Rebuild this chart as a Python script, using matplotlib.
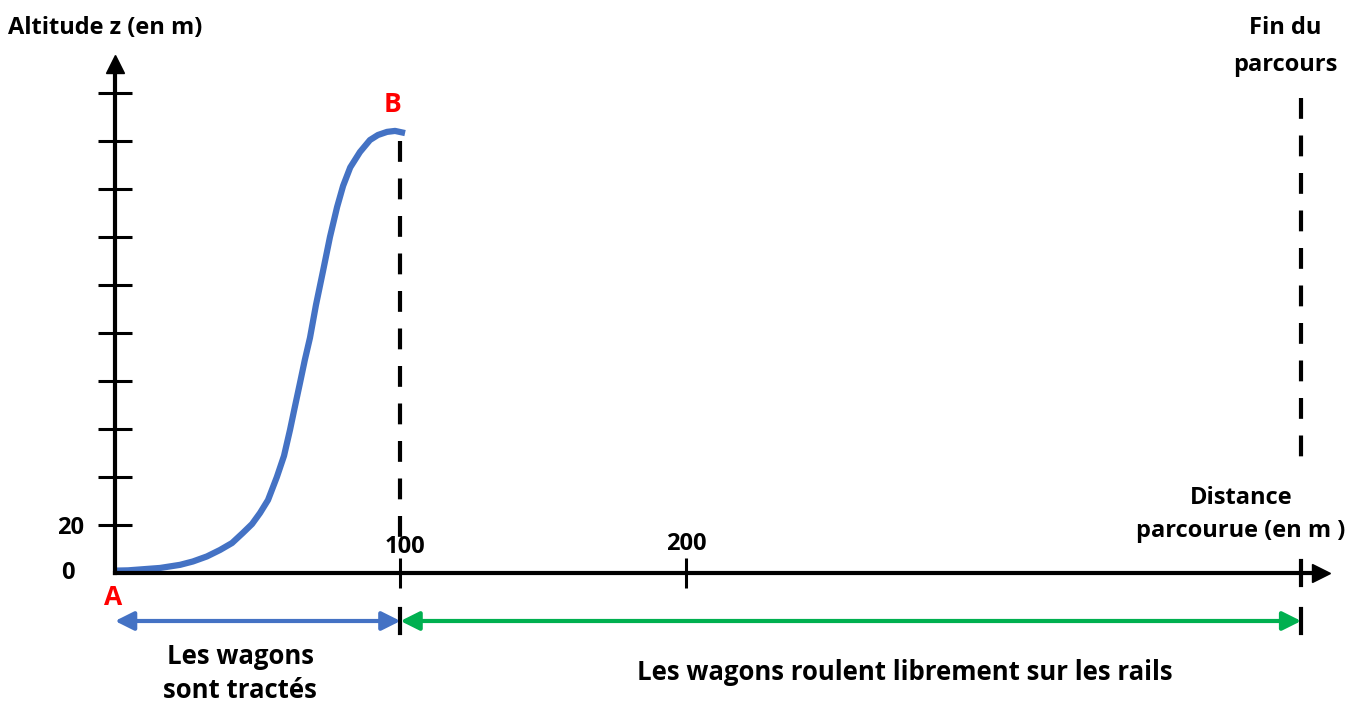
import matplotlib.pyplot as plt

plt.rcParams['font.family'] = ['Open Sans', 'DejaVu Sans']
plt.rcParams['font.weight'] = 'bold'

# profil de la montee A -> B (distance en m, altitude en m)
dist = [0.7, 4.6, 15.8, 22.8, 27.3, 32.2, 36.8, 41.0, 44.8, 48.0, 50.8, 53.6, 56.7, 59.2,
        61.3, 63.0, 64.8, 66.5, 68.3, 70.4, 72.9, 75.3, 77.8, 79.9, 82.4, 85.8, 89.3,
        92.1, 95.3, 98.1, 101.6]
alt = [1.0, 1.1, 2.1, 3.4, 4.8, 6.9, 9.6, 12.5, 16.7, 20.4, 25, 30.4, 40, 48.8,
       59.6, 69.2, 79.2, 88.8, 98, 111.7, 126, 140, 152.5, 161.3, 169, 175.4, 180.4,
       182.5, 183.8, 184.2, 183.3]

yticks = [20, 40, 60, 80, 100, 120, 140, 160, 180, 200]
ytick_labels = ['20', '', '', '', '', '', '', '', '', '']
xticks = [100, 200]
x_fin = 415.5
y_fleche = -20

fig = plt.figure(figsize=(13.6, 7.03), dpi=100)
ax = fig.add_axes([0, 0, 1, 1])
ax.set_xlim(-40.28, 436.1)
ax.set_ylim(-54.17, 238.75)

for s in ['top', 'right']:
    ax.spines[s].set_visible(False)
ax.spines['left'].set_position(('data', 0))
ax.spines['bottom'].set_position(('data', 0))
ax.spines['left'].set_bounds(0, 210)
ax.spines['bottom'].set_bounds(0, 420)
ax.spines['left'].set_linewidth(3)
ax.spines['bottom'].set_linewidth(3)
ax.plot(0, 212, marker='^', color='black', ms=13, clip_on=False)
ax.plot(422.5, 0, marker='>', color='black', ms=13, clip_on=False)

ax.set_yticks(yticks)
ax.set_yticklabels(ytick_labels)
ax.set_xticks(xticks)
ax.set_xticklabels([])
ax.tick_params(axis='y', direction='inout', length=25, width=2.2, labelsize=17, pad=10)
ax.tick_params(axis='x', direction='inout', length=22, width=2.2)

# courbe
ax.plot(dist, alt, color='#4472C4', lw=4.5, solid_capstyle='butt', solid_joinstyle='round')

# lignes pointillees
ax.plot([100, 100], [180, 14], color='black', lw=3, dashes=(5, 4))
ax.plot([x_fin, x_fin], [198, 42], color='black', lw=3, dashes=(5, 4))
ax.plot([x_fin, x_fin], [-5, 5], color='black', lw=3)
ax.plot([100, 100], [-15, -25], color='black', lw=3)
ax.plot([x_fin, x_fin], [-15, -25], color='black', lw=3)

# fleches
ax.annotate('', xy=(0, y_fleche), xytext=(100, y_fleche),
            arrowprops=dict(arrowstyle='<|-|>', color='#4472C4', lw=3, mutation_scale=28, shrinkA=0, shrinkB=0))
ax.annotate('', xy=(100, y_fleche), xytext=(x_fin, y_fleche),
            arrowprops=dict(arrowstyle='<|-|>', color='#00B050', lw=3, mutation_scale=28, shrinkA=0, shrinkB=0))

fs = 17
fb = 18.5
ax.text(-37.5, 227, 'Altitude z (en m)', fontsize=fs, ha='left', va='center')
ax.text(410, 219.2, 'Fin du\nparcours', fontsize=fs, ha='center', va='center', linespacing=1.72)
ax.text(394.4, 24.4, 'Distance\nparcourue (en m )', fontsize=fs, ha='center', va='center', linespacing=1.48)
ax.text(43.8, -41.9, 'Les wagons\nsont tractés', fontsize=fb, ha='center', va='center', linespacing=1.36)
ax.text(276.7, -41.5, 'Les wagons roulent librement sur les rails', fontsize=fb, ha='center', va='center')
ax.text(101.6, 11, '100', fontsize=fs, ha='center', va='center')
ax.text(200, 12.2, '200', fontsize=fs, ha='center', va='center')
ax.text(-16.5, 0, '0', fontsize=fs, ha='center', va='center')
ax.text(-0.7, -10.4, 'A', fontsize=19, ha='center', va='center', color='#FF0000')
ax.text(97.3, 195, 'B', fontsize=19, ha='center', va='center', color='#FF0000')

fig.savefig('out.png', dpi=100)
